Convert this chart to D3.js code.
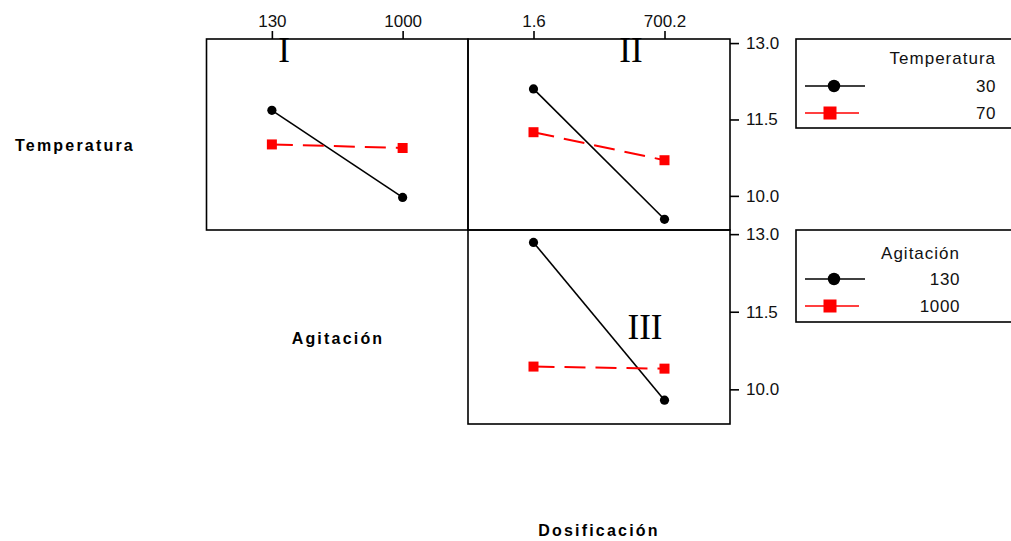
<!DOCTYPE html>
<html>
<head>
<meta charset="utf-8">
<script src="https://cdn.jsdelivr.net/npm/d3@7"></script>
<style>
  html, body { margin: 0; padding: 0; background: #fff; }
  svg { display: block; }
  .tick text { font-family: "Liberation Sans", Arial, sans-serif; font-size: 17px; fill: #111; }
</style>
</head>
<body>
<svg id="chart" width="1011" height="541"></svg>
<script>
// Factor levels
const agitacion = ["130", "1000"];
const dosificacion = ["1.6", "700.2"];
const temperatura = ["30", "70"];

// Mean response, panel I: Temperatura lines across Agitación
const agitTemp30 = [11.68, 9.97];
const agitTemp70 = [11.01, 10.94];
// Panel II: Temperatura lines across Dosificación
const dosTemp30 = [12.10, 9.54];
const dosTemp70 = [11.25, 10.70];
// Panel III: Agitación lines across Dosificación
const dosAgit130 = [12.84, 9.79];
const dosAgit1000 = [10.44, 10.40];

const yTicks = [10.0, 11.5, 13.0];
const yDomain = [9.33, 13.08];

const svg = d3.select("#chart");
const RED = "#ff0000";

// Panel frames
const panels = [
  { id: "I",   x0: 206.5, x1: 468, y0: 39,  y1: 230, levels: agitacion,
    series: [agitTemp30, agitTemp70], topAxis: true, rightAxis: false,
    roman: { x: 284, y: 62 } },
  { id: "II",  x0: 468, x1: 730, y0: 39,  y1: 230, levels: dosificacion,
    series: [dosTemp30, dosTemp70], topAxis: true, rightAxis: true,
    roman: { x: 631, y: 62 } },
  { id: "III", x0: 468, x1: 730, y0: 230, y1: 424, levels: dosificacion,
    series: [dosAgit130, dosAgit1000], topAxis: false, rightAxis: true,
    roman: { x: 645, y: 339 } }
];

const styles = [
  { color: "#000", dash: null, width: 1.6, marker: "circle" },
  { color: RED, dash: "21,10", width: 2, marker: "square" }
];

panels.forEach(p => {
  const x = d3.scalePoint().domain(p.levels).range([p.x0, p.x1]).padding(0.5);
  const y = d3.scaleLinear().domain(yDomain).range([p.y1, p.y0]);
  const g = svg.append("g");

  g.append("rect")
    .attr("x", p.x0).attr("y", p.y0)
    .attr("width", p.x1 - p.x0).attr("height", p.y1 - p.y0)
    .attr("fill", "none").attr("stroke", "#000").attr("stroke-width", 1.6);

  if (p.topAxis) {
    const ax = g.append("g").attr("transform", `translate(0,${p.y0})`)
      .call(d3.axisTop(x).tickSize(8).tickPadding(4));
    ax.select(".domain").remove();
    ax.selectAll(".tick line").attr("stroke", "#000").attr("stroke-width", 1.6);
  }
  if (p.rightAxis) {
    const ay = g.append("g").attr("transform", `translate(${p.x1},0)`)
      .call(d3.axisRight(y).tickValues(yTicks).tickFormat(d3.format(".1f")).tickSize(9).tickPadding(7));
    ay.select(".domain").remove();
    ay.selectAll(".tick line").attr("stroke", "#000").attr("stroke-width", 1.6);
  }

  g.append("text")
    .attr("x", p.roman.x).attr("y", p.roman.y)
    .attr("text-anchor", "middle")
    .attr("font-family", "Liberation Serif, Times New Roman, serif")
    .attr("font-size", 35)
    .attr("fill", "#000")
    .text(p.id);

  p.series.forEach((vals, i) => {
    const s = styles[i];
    const pts = p.levels.map((lv, k) => [x(lv), y(vals[k])]);
    g.append("path")
      .attr("d", d3.line()(pts))
      .attr("fill", "none")
      .attr("stroke", s.color)
      .attr("stroke-width", s.width)
      .attr("stroke-dasharray", s.dash);
    pts.forEach(([px, py]) => {
      if (s.marker === "circle") {
        g.append("circle").attr("cx", px).attr("cy", py).attr("r", 4.6).attr("fill", s.color);
      } else {
        g.append("rect").attr("x", px - 5).attr("y", py - 5)
          .attr("width", 10).attr("height", 10).attr("fill", s.color);
      }
    });
  });
});

// Factor names on the matrix diagonal
const factorLabels = [
  { text: "Temperatura", x: 75, y: 151 },
  { text: "Agitación", x: 338, y: 344 },
  { text: "Dosificación", x: 599, y: 536 }
];
svg.selectAll("text.factor").data(factorLabels).enter().append("text")
  .attr("class", "factor")
  .attr("x", d => d.x).attr("y", d => d.y)
  .attr("text-anchor", "middle")
  .attr("font-family", "Liberation Sans, Arial, sans-serif")
  .attr("font-weight", "bold")
  .attr("font-size", 16)
  .attr("letter-spacing", 2.2)
  .attr("fill", "#000")
  .text(d => d.text);

// Legends
const legends = [
  { title: "Temperatura", levels: temperatura, y0: 39, y1: 128, textRight: 996,
    titleY: 64, rowY: [86, 113] },
  { title: "Agitación", levels: agitacion, y0: 230, y1: 322, textRight: 960,
    titleY: 259, rowY: [279, 306] }
];
legends.forEach(L => {
  const g = svg.append("g");
  g.append("rect")
    .attr("x", 796).attr("y", L.y0).attr("width", 230).attr("height", L.y1 - L.y0)
    .attr("fill", "none").attr("stroke", "#000").attr("stroke-width", 1.6);
  g.append("text")
    .attr("x", L.textRight).attr("y", L.titleY)
    .attr("text-anchor", "end")
    .attr("font-family", "Liberation Sans, Arial, sans-serif")
    .attr("font-size", 17).attr("letter-spacing", 1).attr("fill", "#111")
    .text(L.title);
  L.levels.forEach((lv, i) => {
    const yy = L.rowY[i];
    const s = styles[i];
    if (i === 0) {
      g.append("line").attr("x1", 805).attr("x2", 865).attr("y1", yy).attr("y2", yy)
        .attr("stroke", s.color).attr("stroke-width", 1.6);
      g.append("circle").attr("cx", 834).attr("cy", yy).attr("r", 6.2).attr("fill", s.color);
    } else {
      g.append("line").attr("x1", 805).attr("x2", 859).attr("y1", yy).attr("y2", yy)
        .attr("stroke", s.color).attr("stroke-width", 1.6);
      g.append("rect").attr("x", 830 - 6.5).attr("y", yy - 6.5)
        .attr("width", 13).attr("height", 13).attr("fill", s.color);
    }
    g.append("text")
      .attr("x", L.textRight).attr("y", yy + 6)
      .attr("text-anchor", "end")
      .attr("font-family", "Liberation Sans, Arial, sans-serif")
      .attr("font-size", 17).attr("letter-spacing", 0.6).attr("fill", "#111")
      .text(lv);
  });
});
</script>
</body>
</html>
